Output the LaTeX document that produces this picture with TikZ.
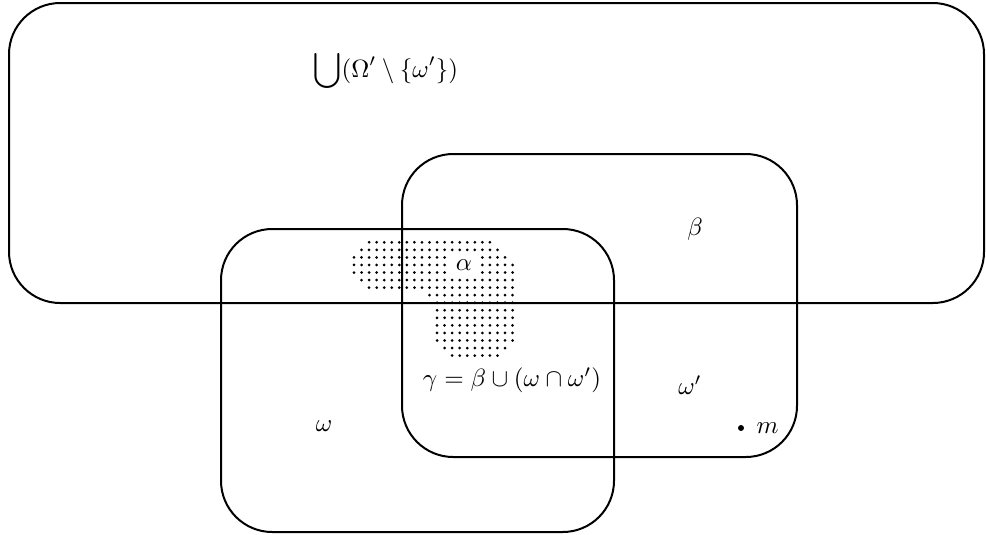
\documentclass[tikz,border=0pt]{standalone}
\usepackage{amsmath,amssymb}
\usetikzlibrary{positioning}

\begin{document}
\begin{tikzpicture}[x=0.4pt,y=-0.4pt, font=\normalsize,
    every node/.style={inner sep=1pt},
    setbox/.style={line width=0.8pt,rounded corners=20.5pt},
    grain/.style={fill=black}]
\useasboundingbox (0,0) rectangle (986,534);

% Sets
\draw[setbox] (9,3) rectangle (984,303);
\draw[setbox] (221,229) rectangle (614,532);
\draw[setbox] (402,154) rectangle (797,457);

% Dotted region alpha
\foreach \r/\a/\b in {0/2/18,1/1/19,2/0/20,3/0/21,4/0/21,5/1/21,6/2/21,7/10/21,
    8/11/21,9/11/21,10/11/21,11/11/21,12/11/21,13/11/21,14/12/20,15/13/19}
  \foreach \c in {\a,...,\b}
    \fill[grain] (354+7.55*\c,242.3+7.55*\r) circle (0.6pt);

% Labels
\node[fill=white,inner sep=0pt,minimum width=12pt,minimum height=9pt] (alpha) at (464,265) {$\alpha$};
\node (union) at (386,71) {$\displaystyle\bigcup(\Omega'\setminus\{\omega'\})$};
\node (beta) at (695,229) {$\beta$};
\node (gamma) at (512,380) {$\gamma=\beta\cup(\omega\cap\omega')$};
\node (omegap) at (690,385) {$\omega'$};
\node (omega) at (324,426) {$\omega$};
\fill (741,428) circle (1.2pt) coordinate (pt);
\node[right=5pt of pt] (m) {$m$};

\end{tikzpicture}
\end{document}
